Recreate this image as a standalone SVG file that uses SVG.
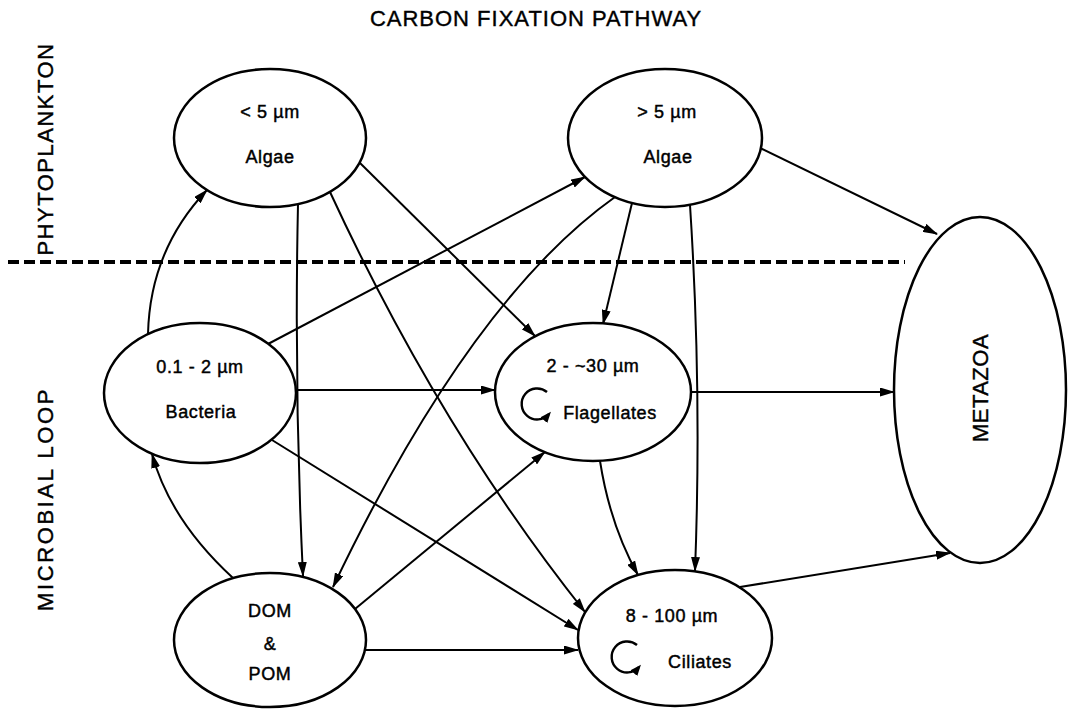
<svg xmlns="http://www.w3.org/2000/svg" width="1073" height="711" viewBox="0 0 1073 711">
<style>
.bg{fill:#ffffff}
.node{fill:#ffffff;stroke:#000;stroke-width:2.5}
.t{font-family:"Liberation Sans",Arial,sans-serif;font-size:18px;letter-spacing:0.6px;fill:#000;stroke:#000;stroke-width:0.45;text-anchor:middle}
.lbl{font-family:"Liberation Sans",Arial,sans-serif;font-size:22px;letter-spacing:1px;fill:#000;stroke:#000;stroke-width:0.4;text-anchor:middle}
.c{fill:none;stroke:#000;stroke-width:2}
.loop{fill:none;stroke:#000;stroke-width:2.4}
.dash{stroke:#000;stroke-width:4;stroke-dasharray:11 5;fill:none}
</style>
<defs>
<marker id="ah" markerUnits="userSpaceOnUse" markerWidth="15" markerHeight="9" refX="14" refY="4.5" orient="auto"><path d="M0,0 L15,4.5 L0,9 Z" fill="#000"/></marker>
<marker id="ahs" markerUnits="userSpaceOnUse" markerWidth="11" markerHeight="9" refX="8" refY="4.5" orient="auto"><path d="M0,0 L11,4.5 L0,9 Z" fill="#000"/></marker>
</defs>
<rect class="bg" x="0" y="0" width="1073" height="711"/>
<text class="lbl" x="536" y="26">CARBON FIXATION PATHWAY</text>
<text class="lbl" transform="translate(53,149) rotate(-90)" style="letter-spacing:1.5px">PHYTOPLANKTON</text>
<text class="lbl" transform="translate(53,499) rotate(-90)" style="letter-spacing:2.6px">MICROBIAL LOOP</text>
<line class="dash" x1="8" y1="262" x2="905" y2="262"/>
<g id="connectors">
<path class="c" d="M148,334 Q150,250 207,190" marker-end="url(#ah)"/>
<path class="c" d="M233,578 Q170,520 152,454" marker-end="url(#ah)"/>
<path class="c" d="M298,204 Q294,390 303,576" marker-end="url(#ah)"/>
<path class="c" d="M330,192 Q440,430 585,612" marker-end="url(#ah)"/>
<path class="c" d="M360,163 L535,336" marker-end="url(#ah)"/>
<path class="c" d="M268,344 L585,177" marker-end="url(#ah)"/>
<path class="c" d="M296,390 L495,390" marker-end="url(#ah)"/>
<path class="c" d="M272,440 L578,630" marker-end="url(#ah)"/>
<path class="c" d="M615,197 Q470,300 333,587" marker-end="url(#ah)"/>
<path class="c" d="M355,609 L545,452" marker-end="url(#ah)"/>
<path class="c" d="M365,650 L578,650" marker-end="url(#ah)"/>
<path class="c" d="M632,203 L603,324" marker-end="url(#ah)"/>
<path class="c" d="M690,205 Q702,390 695,571" marker-end="url(#ah)"/>
<path class="c" d="M760,148 L937,234" marker-end="url(#ah)"/>
<path class="c" d="M691,392 L894,392" marker-end="url(#ah)"/>
<path class="c" d="M600,461 Q610,525 638,575" marker-end="url(#ah)"/>
<path class="c" d="M740,587 L950,553" marker-end="url(#ah)"/>
</g>
<g id="algae-small">
<ellipse class="node" cx="270" cy="138" rx="96" ry="69"/>
<text class="t" x="270" y="118">&lt; 5 µm</text>
<text class="t" x="270" y="163">Algae</text>
</g>
<g id="algae-large">
<ellipse class="node" cx="665" cy="138" rx="97" ry="69"/>
<text class="t" x="667" y="118">&gt; 5 µm</text>
<text class="t" x="668" y="163">Algae</text>
</g>
<g id="bacteria">
<ellipse class="node" cx="200" cy="393" rx="96" ry="70"/>
<text class="t" x="200" y="373">0.1 - 2 µm</text>
<text class="t" x="201" y="418">Bacteria</text>
</g>
<g id="flagellates">
<ellipse class="node" cx="593" cy="392" rx="98" ry="69"/>
<text class="t" x="610" y="372" style="text-anchor:middle" dx="-17">2 - ~30 µm</text>
<text class="t" x="610" y="419">Flagellates</text>
<path class="loop" d="M547,392 A15.5,15.5 0 1 0 549,414" marker-end="url(#ahs)"/>
</g>
<g id="dom-pom">
<ellipse class="node" cx="270" cy="640" rx="96" ry="67"/>
<text class="t" x="270" y="617">DOM</text>
<text class="t" x="270" y="650">&amp;</text>
<text class="t" x="270" y="680">POM</text>
</g>
<g id="ciliates">
<ellipse class="node" cx="675" cy="638" rx="97" ry="68"/>
<text class="t" x="672" y="622">8 - 100 µm</text>
<text class="t" x="700" y="668">Ciliates</text>
<path class="loop" d="M637,645 A15.5,15.5 0 1 0 639,667" marker-end="url(#ahs)"/>
</g>
<g id="metazoa">
<ellipse class="node" cx="980" cy="390" rx="86" ry="173"/>
<text class="lbl" transform="translate(988,388) rotate(-90)" style="letter-spacing:0.5px">METAZOA</text>
</g>
</svg>
